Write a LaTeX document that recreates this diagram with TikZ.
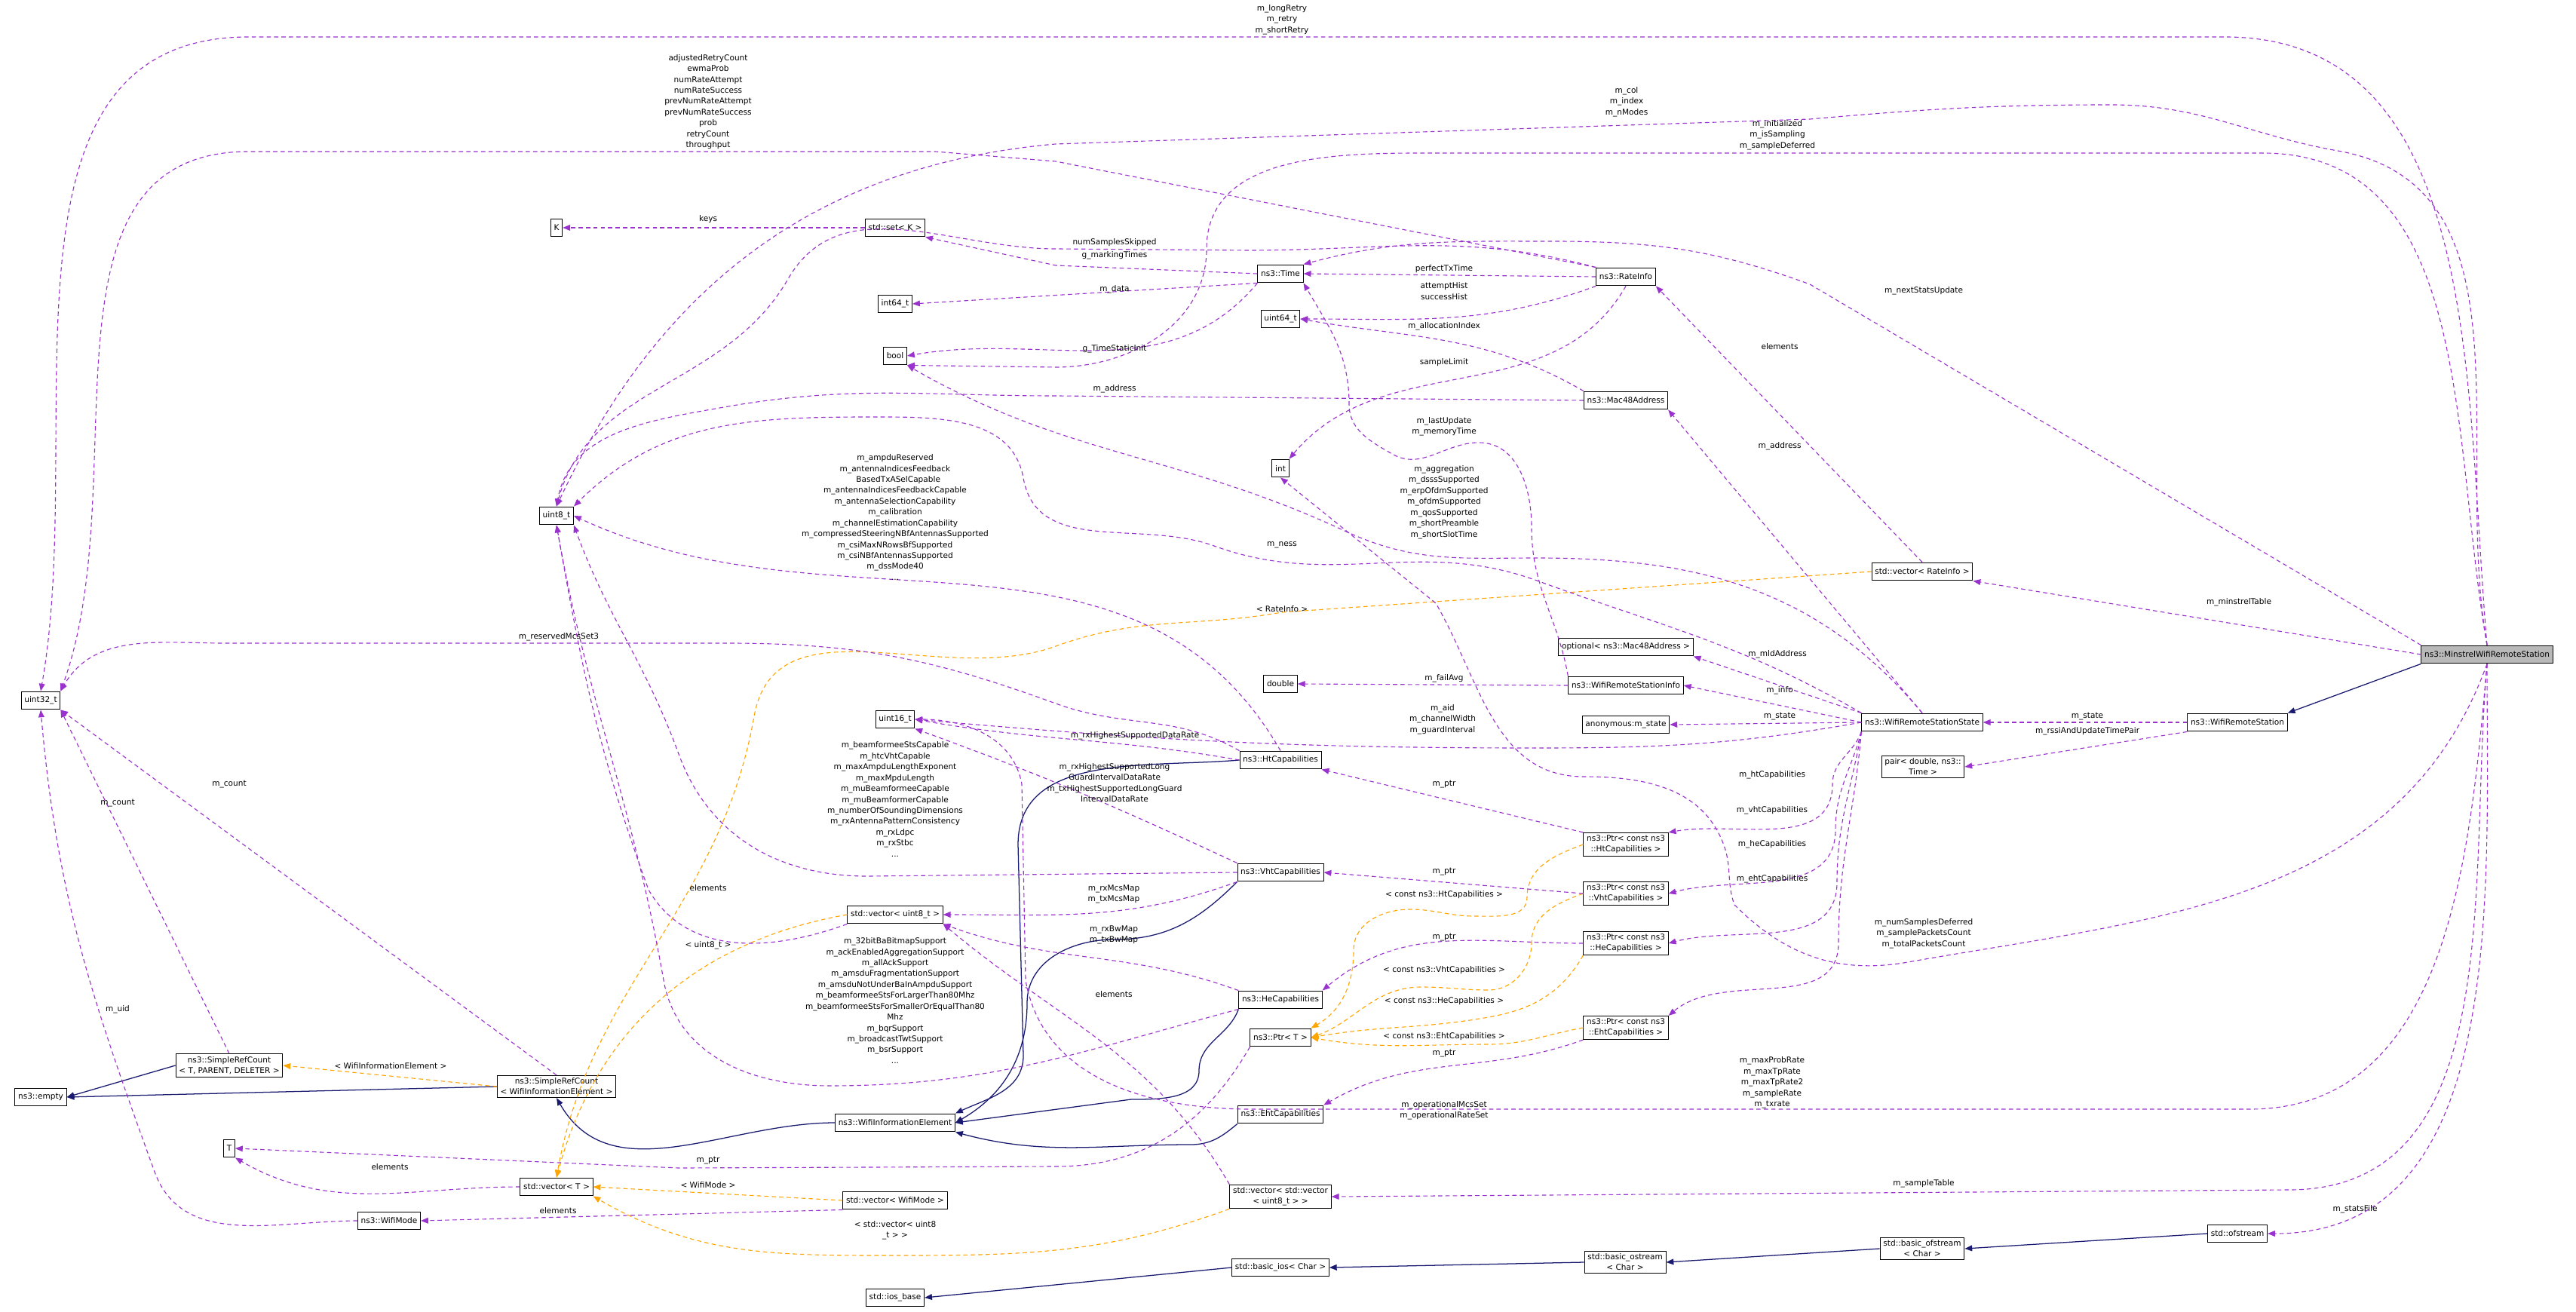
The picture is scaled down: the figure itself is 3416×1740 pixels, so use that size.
\documentclass[tikz,border=0pt]{standalone}
\usepackage{fontspec}
\setmainfont{DejaVu Sans}
\usetikzlibrary{arrows.meta}
\definecolor{memcol}{HTML}{9A32CD}
\definecolor{inhcol}{HTML}{191970}
\definecolor{tplcol}{HTML}{FFA500}
\tikzset{>={Triangle[length=2.8pt,width=2.2pt]}}
\tikzset{
  box/.style={draw=black, line width=0.28pt, fill=white, inner xsep=1.2pt, inner ysep=1pt, minimum height=6.8pt, align=center, font=\fontsize{3}{4}\selectfont},
  lbl/.style={align=center, inner sep=0pt, font=\fontsize{3}{4.1}\selectfont},
  mem/.style={->, memcol, dashed, dash pattern=on 1.6pt off 1.2pt, line width=0.32pt},
  inh/.style={->, inhcol, line width=0.36pt},
  tpl/.style={->, tplcol, dashed, dash pattern=on 1.6pt off 1.2pt, line width=0.32pt},
}

\begin{document}
\begin{tikzpicture}[x=0.01cm, y=-0.01cm]
\useasboundingbox (0,0) rectangle (3416,1740);

% Classes
\node[box, fill=gray!55] (minstrel) at (3298,868) {ns3::MinstrelWifiRemoteStation};
\node[box] (station) at (2967,958) {ns3::WifiRemoteStation};
\node[box] (state) at (2549,958) {ns3::WifiRemoteStationState};
\node[box] (pair) at (2550,1017) {pair< double, ns3::\\Time >};
\node[box] (vecrate) at (2549,758) {std::vector< RateInfo >};
\node[box] (ofstr) at (2967,1636) {std::ofstream};
\node[box] (basicof) at (2549,1656) {std::basic\_ofstream\\< Char >};
\node[box] (ostr) at (2155,1674) {std::basic\_ostream\\< Char >};
\node[box] (ios) at (1698,1681) {std::basic\_ios< Char >};
\node[box] (iosbase) at (1187,1721) {std::ios\_base};

\node[box] (rateinfo) at (2156,367) {ns3::RateInfo};
\node[box] (mac) at (2156,531) {ns3::Mac48Address};
\node[box] (optmac) at (2156,858) {optional< ns3::Mac48Address >};
\node[box] (info) at (2156,909) {ns3::WifiRemoteStationInfo};
\node[box] (anon) at (2156,961) {anonymous:m\_state};
\node[box] (ptrht) at (2156,1120) {ns3::Ptr< const ns3\\::HtCapabilities >};
\node[box] (ptrvht) at (2156,1185) {ns3::Ptr< const ns3\\::VhtCapabilities >};
\node[box] (ptrhe) at (2156,1251) {ns3::Ptr< const ns3\\::HeCapabilities >};
\node[box] (ptreht) at (2156,1363) {ns3::Ptr< const ns3\\::EhtCapabilities >};

\node[box] (time) at (1698,363) {ns3::Time};
\node[box] (uint64) at (1698,423) {uint64\_t};
\node[box] (int) at (1698,621) {int};
\node[box] (double) at (1698,907) {double};
\node[box] (htcap) at (1698,1008) {ns3::HtCapabilities};
\node[box] (vhtcap) at (1698,1157) {ns3::VhtCapabilities};
\node[box] (hecap) at (1698,1326) {ns3::HeCapabilities};
\node[box] (ptrt) at (1698,1376) {ns3::Ptr< T >};
\node[box] (ehtcap) at (1698,1478) {ns3::EhtCapabilities};
\node[box] (vecvec) at (1698,1587) {std::vector< std::vector\\< uint8\_t > >};

\node[box] (setk) at (1187,302) {std::set< K >};
\node[box] (int64) at (1187,403) {int64\_t};
\node[box] (bool) at (1187,472) {bool};
\node[box] (uint16) at (1187,954) {uint16\_t};
\node[box] (vec8) at (1187,1213) {std::vector< uint8\_t >};
\node[box] (wie) at (1187,1489) {ns3::WifiInformationElement};
\node[box] (vecmode) at (1187,1592) {std::vector< WifiMode >};

\node[box] (k) at (738,302) {K};
\node[box] (uint8) at (738,684) {uint8\_t};
\node[box] (srcw) at (738,1441) {ns3::SimpleRefCount\\< WifiInformationElement >};
\node[box] (vect) at (738,1574) {std::vector< T >};
\node[box] (wifimode) at (516,1619) {ns3::WifiMode};
\node[box] (srct) at (304,1413) {ns3::SimpleRefCount\\< T, PARENT, DELETER >};
\node[box] (t) at (304,1523) {T};
\node[box] (uint32) at (54,929) {uint32\_t};
\node[box] (empty) at (54,1455) {ns3::empty};

% Inheritance
\draw[inh] (minstrel.south west) -- (station.north east);
\draw[inh] (ofstr.west) -- (basicof.east);
\draw[inh] (basicof.west) -- (ostr.east);
\draw[inh] (ostr.west) -- (ios.east);
\draw[inh] (ios.west) -- (iosbase.east);
\draw[inh] (srct.west) -- (empty.east);
\draw[inh] (srcw.west) -- (empty.east);
\draw[inh] (wie.west) to[out=180,in=-60] (srcw.south);
\draw[inh] (htcap.west) to[out=185,in=90] (1350,1120) -- (1357,1400) to[out=-90,in=25] (wie.north east);
\draw[inh] (vhtcap.south west) to[out=-135,in=0] (1477,1246) to[out=180,in=90] (1362,1330) to[out=-90,in=30] (wie.east);
\draw[inh] (hecap.south west) to[out=-110,in=90] (1590,1420) to[out=-90,in=0] (1500,1458) -- (wie.east);
\draw[inh] (ehtcap.south west) to[out=-140,in=0] (1579,1518) to[out=180,in=-15] (wie.south east);

% Template instances
\draw[tpl] (srcw.west) -- (srct.east);
\draw[tpl] (vecmode.west) -- (vect.east);
\draw[tpl] (vec8.west) to[out=190,in=75] (vect.north);
\draw[tpl] (vecrate.west) -- (1700,812) to[out=190,in=20] (1400,857) to[out=200,in=80] (1000,950) to[out=-100,in=80] (vect.north);
\draw[tpl] (vecvec.south west) to[out=200,in=0] (1180,1665) to[out=180,in=-30] (vect.south east);
\draw[tpl] (ptrht.west) to[out=200,in=90] (2025,1190) to[out=-90,in=0] (1955,1215) to[out=180,in=0] (1870,1206) to[out=180,in=90] (1795,1260) to[out=-90,in=30] (ptrt.north east);
\draw[tpl] (ptrvht.west) to[out=200,in=90] (2031,1250) to[out=-90,in=0] (1974,1313) to[out=180,in=0] (1885,1309) to[out=180,in=20] (ptrt.east);
\draw[tpl] (ptrhe.south west) to[out=-120,in=10] (1974,1349) to[out=190,in=10] (ptrt.east);
\draw[tpl] (ptreht.west) to[out=190,in=0] (1974,1385) to[out=180,in=-10] (ptrt.east);

% Members of MinstrelWifiRemoteStation
\draw[mem] (minstrel.north) to[out=95,in=0] (2950,49) -- (330,49) to[out=180,in=80] (uint32.north);
\draw[mem] (minstrel.north) to[out=100,in=-10] (3100,200) to[out=170,in=0] (2800,139) to[out=180,in=5] (2400,158) -- (1400,191) to[out=185,in=65] (uint8.north);
\draw[mem] (minstrel.north) to[out=100,in=0] (3000,203) -- (1890,203) to[out=180,in=90] (1600,330) to[out=-90,in=0] (1400,487) -- (bool.south east);
\draw[mem] (minstrel.north west) -- (2400,377) to[out=160,in=0] (2057,320) to[out=180,in=15] (time.north east);
\draw[mem] (minstrel.west) -- (vecrate.south east);
\draw[mem] (minstrel.south) to[out=250,in=10] (2530,1276) to[out=190,in=-45] (2300,1200) to[out=110,in=-70] (2286,1121) to[out=110,in=0] (2100,1030) to[out=180,in=-60] (1904,800) -- (int.south);
\draw[mem] (minstrel.south) to[out=-95,in=0] (2983,1471) -- (1660,1471) to[out=180,in=-80] (1360,1300) -- (1355,1040) to[out=100,in=0] (uint16.east);
\draw[mem] (minstrel.south) to[out=-95,in=0] (3035,1578) -- (vecvec.east);
\draw[mem] (minstrel.south) to[out=-90,in=0] (ofstr.east);
\draw[mem] (station.west) -- (state.east);
\draw[mem] (station.south west) -- (pair.east);

% Members of the other classes
\draw[mem] (vecrate.north) -- (rateinfo.south east);
\draw[mem] (rateinfo.north west) -- (1400,214) -- (1240,201) -- (330,201) to[out=180,in=70] (uint32.north east);
\draw[mem] (rateinfo.north west) to[out=165,in=0] (1655,332) -- (1400,330) to[out=180,in=60] (1045,370) to[out=-120,in=75] (uint8.north);
\draw[mem] (rateinfo.west) -- (time.east);
\draw[mem] (rateinfo.south west) to[out=200,in=0] (uint64.east);
\draw[mem] (rateinfo.south) to[out=-120,in=50] (int.north east);
\draw[mem] (time.west) -- (1400,352) -- (setk.south east);
\draw[mem] (time.south west) -- (int64.east);
\draw[mem] (time.south west) to[out=-130,in=10] (bool.east);
\draw[mem] (setk.west) -- (k.east);
\draw[mem] (mac.north west) to[out=150,in=-10] (uint64.east);
\draw[mem] (mac.west) -- (1400,525) to[out=180,in=10] (960,540) to[out=190,in=80] (uint8.north);
\draw[mem] (state.north) -- (mac.south east);
\draw[mem] (state.north) to[out=130,in=0] (2038,740) to[out=180,in=-25] (1783,704) to[out=155,in=-30] (bool.south east);
\draw[mem] (state.north west) to[out=150,in=-20] (2038,770) to[out=160,in=-20] (1610,724) to[out=160,in=-80] (1357,634) to[out=100,in=0] (1161,553) to[out=180,in=45] (uint8.north east);
\draw[mem] (state.north west) -- (optmac.south east);
\draw[mem] (state.west) -- (info.east);
\draw[mem] (state.west) -- (anon.east);
\draw[mem] (state.west) to[out=190,in=0] (2038,992) to[out=180,in=-5] (uint16.east);
\draw[mem] (state.south west) to[out=-110,in=90] (2430,1040) to[out=-90,in=10] (ptrht.north east);
\draw[mem] (state.south west) to[out=-105,in=90] (2434,1100) to[out=-90,in=15] (ptrvht.east);
\draw[mem] (state.south west) to[out=-100,in=90] (2436,1170) to[out=-90,in=15] (ptrhe.east);
\draw[mem] (state.south west) to[out=-95,in=90] (2438,1250) to[out=-90,in=40] (ptreht.north east);
\draw[mem] (info.north west) to[out=100,in=-90] (2031,700) to[out=90,in=0] (1961,587) to[out=180,in=-30] (1846,602) to[out=150,in=-90] (1789,536) to[out=90,in=-60] (time.south east);
\draw[mem] (info.west) -- (double.east);
\draw[mem] (ptrht.north west) -- (htcap.south east);
\draw[mem] (ptrvht.west) -- (vhtcap.east);
\draw[mem] (ptrhe.west) to[out=180,in=40] (hecap.north east);
\draw[mem] (ptreht.south west) to[out=200,in=30] (ehtcap.north east);
\draw[mem] (ptrt.south west) to[out=-120,in=0] (1400,1547) -- (900,1549) -- (t.east);
\draw[mem] (htcap.west) to[out=170,in=-10] (uint16.east);
\draw[mem] (htcap.north) to[out=120,in=-25] (uint8.east);
\draw[mem] (htcap.north west) to[out=150,in=-20] (1400,933) to[out=160,in=0] (964,853) -- (300,853) to[out=180,in=60] (uint32.north east);
\draw[mem] (vhtcap.west) -- (1150,1162) to[out=180,in=-70] (900,1000) to[out=110,in=-70] (uint8.south east);
\draw[mem] (vhtcap.north west) to[out=155,in=-20] (uint16.south east);
\draw[mem] (vhtcap.south west) to[out=200,in=0] (vec8.east);
\draw[mem] (hecap.north west) to[out=160,in=-20] (vec8.south east);
\draw[mem] (hecap.south west) to[out=195,in=0] (1100,1440) to[out=180,in=-80] (880,1300) to[out=100,in=-80] (uint8.south);
\draw[mem] (vecvec.north west) to[out=120,in=-40] (vec8.south east);
\draw[mem] (vec8.south west) to[out=200,in=-60] (860,1180) to[out=110,in=-80] (uint8.south);
\draw[mem] (vect.west) to[out=180,in=-30] (t.south east);
\draw[mem] (vecmode.south west) -- (wifimode.east);
\draw[mem] (wifimode.west) to[out=180,in=-70] (205,1554) to[out=110,in=-85] (uint32.south);
\draw[mem] (srct.north) -- (uint32.south east);
\draw[mem] (srcw.north) -- (uint32.south east);

% Edge labels
\node[lbl] (lretry) at (1700,26) {m\_longRetry\\m\_retry\\m\_shortRetry};
\node[lbl] (lrate) at (939,135) {adjustedRetryCount\\ewmaProb\\numRateAttempt\\numRateSuccess\\prevNumRateAttempt\\prevNumRateSuccess\\prob\\retryCount\\throughput};
\node[lbl] (lcol) at (2157,135) {m\_col\\m\_index\\m\_nModes};
\node[lbl] (linit) at (2357,179) {m\_initialized\\m\_isSampling\\m\_sampleDeferred};
\node[lbl] (lkeys) at (939,291) {keys};
\node[lbl] (lskip) at (1478,322) {numSamplesSkipped};
\node[lbl] (lmark) at (1478,339) {g\_markingTimes};
\node[lbl] (lperf) at (1915,357) {perfectTxTime};
\node[lbl] (lhist) at (1915,386) {attemptHist\\successHist};
\node[lbl] (ldata) at (1478,384) {m\_data};
\node[lbl] (lnext) at (2551,386) {m\_nextStatsUpdate};
\node[lbl] (lalloc) at (1915,433) {m\_allocationIndex};
\node[lbl] (lelem1) at (2360,460) {elements};
\node[lbl] (lstatic) at (1478,463) {g\_TimeStaticInit};
\node[lbl] (llimit) at (1915,481) {sampleLimit};
\node[lbl] (laddr1) at (1478,516) {m\_address};
\node[lbl] (lupd) at (1915,566) {m\_lastUpdate\\m\_memoryTime};
\node[lbl] (laddr2) at (2360,592) {m\_address};
\node[lbl] (lht8) at (1187,686) {m\_ampduReserved\\m\_antennaIndicesFeedback\\\hspace*{0.8em}BasedTxASelCapable\\m\_antennaIndicesFeedbackCapable\\m\_antennaSelectionCapability\\m\_calibration\\m\_channelEstimationCapability\\m\_compressedSteeringNBfAntennasSupported\\m\_csiMaxNRowsBfSupported\\m\_csiNBfAntennasSupported\\m\_dssMode40\\...};
\node[lbl] (lagg) at (1915,666) {m\_aggregation\\m\_dsssSupported\\m\_erpOfdmSupported\\m\_ofdmSupported\\m\_qosSupported\\m\_shortPreamble\\m\_shortSlotTime};
\node[lbl] (lness) at (1700,723) {m\_ness};
\node[lbl] (ltable) at (2969,799) {m\_minstrelTable};
\node[lbl] (lrinfo) at (1700,808) {< RateInfo >};
\node[lbl] (lres) at (741,845) {m\_reservedMcsSet3};
\node[lbl] (lmld) at (2357,868) {m\_mldAddress};
\node[lbl] (lfail) at (1915,900) {m\_failAvg};
\node[lbl] (linfo) at (2360,916) {m\_info};
\node[lbl] (laid) at (1913,954) {m\_aid\\m\_channelWidth\\m\_guardInterval};
\node[lbl] (lstate1) at (2360,950) {m\_state};
\node[lbl] (lstate2) at (2768,950) {m\_state};
\node[lbl] (lrssi) at (2768,970) {m\_rssiAndUpdateTimePair};
\node[lbl] (lrxhigh) at (1505,976) {m\_rxHighestSupportedDataRate};
\node[lbl] (lvht16) at (1478,1038) {m\_rxHighestSupportedLong\\GuardIntervalDataRate\\m\_txHighestSupportedLongGuard\\IntervalDataRate};
\node[lbl] (lvht8) at (1187,1060) {m\_beamformeeStsCapable\\m\_htcVhtCapable\\m\_maxAmpduLengthExponent\\m\_maxMpduLength\\m\_muBeamformeeCapable\\m\_muBeamformerCapable\\m\_numberOfSoundingDimensions\\m\_rxAntennaPatternConsistency\\m\_rxLdpc\\m\_rxStbc\\...};
\node[lbl] (lcount2) at (304,1040) {m\_count};
\node[lbl] (lcount1) at (156,1065) {m\_count};
\node[lbl] (lhtcap) at (2350,1028) {m\_htCapabilities};
\node[lbl] (lptr1) at (1915,1040) {m\_ptr};
\node[lbl] (lvhtcap) at (2350,1075) {m\_vhtCapabilities};
\node[lbl] (lhecap) at (2350,1120) {m\_heCapabilities};
\node[lbl] (lptr2) at (1915,1156) {m\_ptr};
\node[lbl] (lmcs) at (1477,1186) {m\_rxMcsMap\\m\_txMcsMap};
\node[lbl] (lehtcap) at (2350,1166) {m\_ehtCapabilities};
\node[lbl] (lelem2) at (939,1178) {elements};
\node[lbl] (lcht) at (1915,1187) {< const ns3::HtCapabilities >};
\node[lbl] (lbw) at (1477,1240) {m\_rxBwMap\\m\_txBwMap};
\node[lbl] (lptr3) at (1915,1243) {m\_ptr};
\node[lbl] (lnum) at (2551,1238) {m\_numSamplesDeferred\\m\_samplePacketsCount\\m\_totalPacketsCount};
\node[lbl] (lu8) at (939,1254) {< uint8\_t >};
\node[lbl] (lhe8) at (1187,1327) {m\_32bitBaBitmapSupport\\m\_ackEnabledAggregationSupport\\m\_allAckSupport\\m\_amsduFragmentationSupport\\m\_amsduNotUnderBaInAmpduSupport\\m\_beamformeeStsForLargerThan80Mhz\\m\_beamformeeStsForSmallerOrEqualThan80\\Mhz\\m\_bqrSupport\\m\_broadcastTwtSupport\\m\_bsrSupport\\...};
\node[lbl] (lcvht) at (1915,1287) {< const ns3::VhtCapabilities >};
\node[lbl] (lelem3) at (1477,1319) {elements};
\node[lbl] (lche) at (1915,1328) {< const ns3::HeCapabilities >};
\node[lbl] (luid) at (156,1339) {m\_uid};
\node[lbl] (lceht) at (1915,1375) {< const ns3::EhtCapabilities >};
\node[lbl] (lptr4) at (1915,1397) {m\_ptr};
\node[lbl] (lwie) at (518,1414) {< WifiInformationElement >};
\node[lbl] (lmax) at (2350,1436) {m\_maxProbRate\\m\_maxTpRate\\m\_maxTpRate2\\m\_sampleRate\\m\_txrate};
\node[lbl] (loper) at (1915,1473) {m\_operationalMcsSet\\m\_operationalRateSet};
\node[lbl] (lptr5) at (939,1539) {m\_ptr};
\node[lbl] (lelem4) at (517,1548) {elements};
\node[lbl] (lsample) at (2551,1570) {m\_sampleTable};
\node[lbl] (lmode) at (939,1572) {< WifiMode >};
\node[lbl] (lstats) at (3123,1604) {m\_statsFile};
\node[lbl] (lelem5) at (740,1606) {elements};
\node[lbl] (lvv) at (1187,1632) {< std::vector< uint8\\\_t > >};

\end{tikzpicture}
\end{document}
